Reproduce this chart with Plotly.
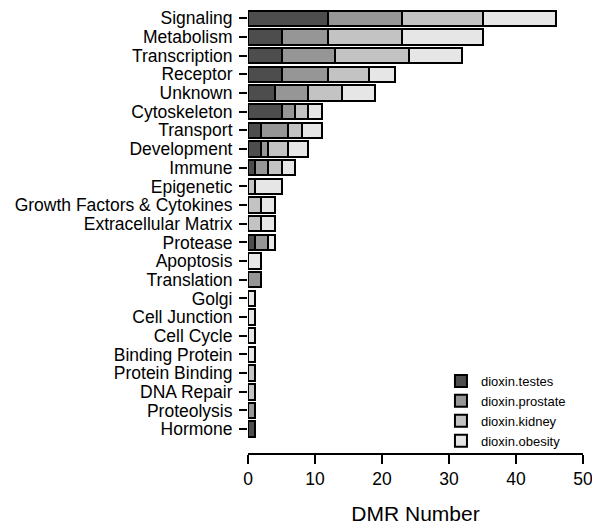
import plotly.graph_objects as go

categories = ["Signaling", "Metabolism", "Transcription", "Receptor", "Unknown",
              "Cytoskeleton", "Transport", "Development", "Immune", "Epigenetic",
              "Growth Factors & Cytokines", "Extracellular Matrix", "Protease",
              "Apoptosis", "Translation", "Golgi", "Cell Junction", "Cell Cycle",
              "Binding Protein", "Protein Binding", "DNA Repair", "Proteolysis", "Hormone"]
testes   = [12, 5, 5, 5, 4, 5, 2, 2, 1, 0, 0, 0, 1, 0, 0, 0, 0, 0, 0, 0, 0, 0, 1]
prostate = [11, 7, 8, 7, 5, 2, 4, 1, 2, 0, 0, 0, 2, 0, 2, 0, 0, 0, 0, 0, 0, 1, 0]
kidney   = [12, 11, 11, 6, 5, 2, 2, 3, 2, 1, 2, 2, 0, 0, 0, 0, 0, 0, 0, 1, 1, 0, 0]
obesity  = [11, 12, 8, 4, 5, 2, 3, 3, 2, 4, 2, 2, 1, 2, 0, 1, 1, 1, 1, 0, 0, 0, 0]
series_names = ["dioxin.testes", "dioxin.prostate", "dioxin.kidney", "dioxin.obesity"]
series_colors = ["#4D4D4D", "#969696", "#C3C3C3", "#E6E6E6"]
x_ticks = [0, 10, 20, 30, 40, 50]

font = "Liberation Sans, Arial, Helvetica, sans-serif"

fig = go.Figure()
for name, vals, col in zip(series_names, [testes, prostate, kidney, obesity], series_colors):
    fig.add_trace(go.Bar(
        y=categories, x=vals, name=name, orientation="h",
        marker=dict(color=col, line=dict(color="black", width=2)),
    ))

n = len(categories)
fig.update_layout(
    barmode="stack",
    bargap=0.17,
    width=592, height=525,
    margin=dict(l=248, r=9, t=9, b=72, autoexpand=False),
    plot_bgcolor="white", paper_bgcolor="white",
    font=dict(family=font, size=17.5, color="black"),
    showlegend=True,
    legend=dict(
        x=0.576, y=0.196, xanchor="left", yanchor="top",
        font=dict(size=13, family=font, color="black"),
        bgcolor="rgba(0,0,0,0)", traceorder="normal",
        itemwidth=30,
    ),
    xaxis=dict(
        range=[0, 50.001], tickmode="array", tickvals=x_ticks,
        ticktext=[str(v) for v in x_ticks], ticklabeloverflow="allow",
        showgrid=False, zeroline=False, automargin=False,
        showline=True, linecolor="black", linewidth=1.5,
        ticks="outside", ticklen=9, tickwidth=1.5, tickcolor="black",
        title=dict(text="DMR Number", standoff=30),
    ),
    yaxis=dict(
        type="category", categoryorder="array", categoryarray=categories[::-1],
        tickmode="array", tickvals=categories, ticktext=categories,
        range=[-1.28, n - 0.5], showgrid=False, zeroline=False, showline=False,
        automargin=False,
        ticks="outside", ticklen=8, tickwidth=1.5, tickcolor="black",
        ticklabelstandoff=3,
    ),
)
fig.write_html("out.html")
